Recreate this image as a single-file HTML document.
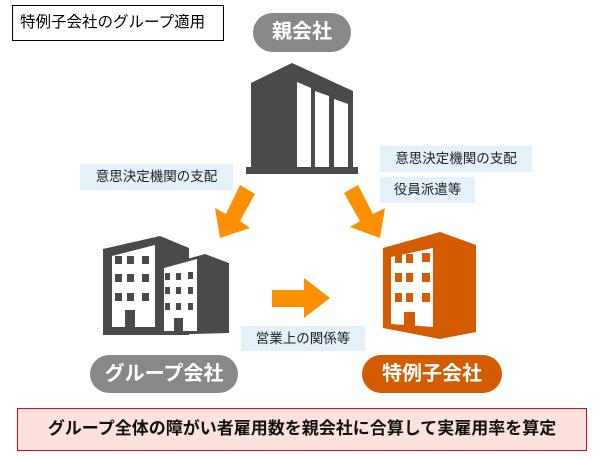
<!DOCTYPE html>
<html><head><meta charset="utf-8"><style>
html,body{margin:0;padding:0;background:#fff;}
body{width:600px;height:460px;position:relative;overflow:hidden;font-family:"Liberation Sans","Noto Sans CJK JP",sans-serif;}
.a{position:absolute;box-sizing:border-box;}
.title{left:12px;top:5px;width:212px;height:36px;border:1.5px solid #000;font-size:15.5px;line-height:33px;padding-left:7px;color:#000;}
.pill{color:#fff;font-weight:bold;font-size:20px;text-align:center;border-radius:22px;}
.lab{background:#e3f1fb;font-size:13.5px;color:#222;text-align:center;}
.bottom{left:17px;top:408px;width:570px;height:43px;background:#fde1dc;border:1.5px solid #e4002b;font-weight:bold;font-size:17px;line-height:40px;text-align:center;color:#111;}
</style></head><body>
<svg class="a" style="left:0;top:0" width="600" height="460">
 <polygon points="251,83 292,63 353,91 353,170 251,170" fill="#4a4a4a"/>
 <rect x="246" y="167" width="112" height="7" fill="#4a4a4a"/>
 <polygon points="297,82 311,88 311,167 297,167" fill="#fff"/>
 <polygon points="315,91 329,96 329,167 315,167" fill="#fff"/>
 <polygon points="334,99 348,104 348,167 334,167" fill="#fff"/>
 <polygon points="240,185 255,194 240,221 250,228 220,238 215,208 226,214" fill="#fd8f00"/>
 <polygon points="358,185 373,214 385,208 380,238 350,227 360,221 344,193" fill="#fd8f00"/>
 <polygon points="272,290 304,290 304,278 330,298 304,318 304,307 272,307" fill="#fd8f00"/>
 <polygon points="103,249 160,236 189,248 189,335 103,335" fill="#4a4a4a"/>
 <polygon points="112,256 155,245 155,327 112,327" fill="#fff"/>
 <g fill="#4a4a4a">
  <rect x="115" y="256" width="7" height="8"/><rect x="127" y="256" width="7" height="8"/><rect x="142" y="256" width="7" height="8"/>
  <rect x="115" y="274" width="7" height="8"/><rect x="127" y="274" width="7" height="8"/><rect x="142" y="274" width="7" height="8"/>
  <rect x="115" y="293" width="7" height="8"/><rect x="127" y="293" width="7" height="8"/><rect x="142" y="293" width="7" height="8"/>
  <rect x="125" y="310" width="10" height="17"/>
 </g>
 <polygon points="158,267 205,254 229,263 229,333 158,335" fill="#4a4a4a"/>
 <polygon points="164,268 197,259 197,331 164,331" fill="#fff"/>
 <g fill="#4a4a4a">
  <rect x="165" y="273" width="5" height="7"/><rect x="176" y="273" width="5" height="7"/><rect x="188" y="272" width="5" height="7"/>
  <rect x="165" y="287" width="5" height="7"/><rect x="176" y="287" width="5" height="7"/><rect x="188" y="287" width="5" height="7"/>
  <rect x="165" y="303" width="5" height="7"/><rect x="176" y="303" width="5" height="7"/><rect x="188" y="303" width="5" height="7"/>
  <rect x="174" y="318" width="9" height="13"/>
 </g>
 <polygon points="383,248 440,232 476,245 476,332 440,339 383,328" fill="#d45b00"/>
 <polygon points="391,257 433,248 433,327 391,324" fill="#fff"/>
 <g fill="#d45b00">
  <rect x="395" y="254" width="7" height="9"/><rect x="406" y="254" width="7" height="9"/><rect x="422" y="253" width="8" height="9"/>
  <rect x="395" y="273" width="7" height="9"/><rect x="406" y="273" width="7" height="9"/><rect x="422" y="273" width="8" height="9"/>
  <rect x="395" y="293" width="7" height="9"/><rect x="406" y="293" width="7" height="9"/><rect x="422" y="293" width="8" height="9"/>
  <rect x="404" y="312" width="11" height="16"/>
 </g>
</svg>
<div class="a title">特例子会社のグループ適用</div>
<div class="a pill" style="left:253px;top:13px;width:98px;height:39px;line-height:39px;background:#888;">親会社</div>
<div class="a lab" style="left:80px;top:164px;width:153px;height:26px;line-height:26px;">意思決定機関の支配</div>
<div class="a lab" style="left:380px;top:146px;width:152px;height:26px;line-height:26px;">意思決定機関の支配</div>
<div class="a lab" style="left:380px;top:177px;width:95px;height:26px;line-height:26px;">役員派遣等</div>
<div class="a lab" style="left:241px;top:326px;width:124px;height:25px;line-height:25px;">営業上の関係等</div>
<div class="a pill" style="left:90px;top:355px;width:148px;height:38px;line-height:38px;background:#888;">グループ会社</div>
<div class="a pill" style="left:362px;top:355px;width:140px;height:38px;line-height:38px;background:#d45b00;">特例子会社</div>
<div class="a bottom">グループ全体の障がい者雇用数を親会社に合算して実雇用率を算定</div>
</body></html>
